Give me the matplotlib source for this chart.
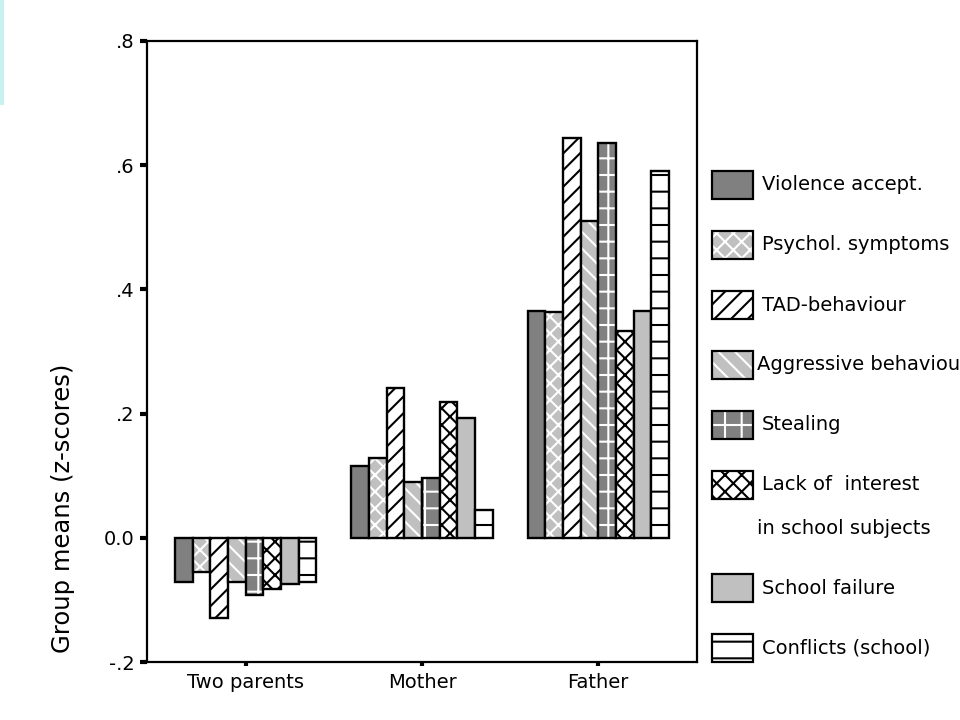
import matplotlib
matplotlib.use("Agg")
import matplotlib.pyplot as plt
import numpy as np
from matplotlib.patches import Rectangle

# group means (z-scores)
groups = ["Two parents", "Mother", "Father"]
series = ["Violence accept.", "Psychol. symptoms", "TAD-behaviour",
          "Aggressive behaviour", "Stealing",
          "Lack of  interest\nin school subjects", "School failure",
          "Conflicts (school)"]
violence = [-0.071, 0.116, 0.366]
psychol = [-0.055, 0.129, 0.364]
tad = [-0.129, 0.242, 0.643]
aggressive = [-0.071, 0.090, 0.510]
stealing = [-0.092, 0.097, 0.636]
lack_interest = [-0.082, 0.219, 0.333]
school_failure = [-0.074, 0.193, 0.366]
conflicts = [-0.071, 0.045, 0.591]
yticks = [-0.2, 0.0, 0.2, 0.4, 0.6, 0.8]
ytick_labels = ["-.2", "0.0", ".2", ".4", ".6", ".8"]

values = [violence, psychol, tad, aggressive, stealing,
          lack_interest, school_failure, conflicts]

DARK = "#808080"
LIGHT = "#c0c0c0"
# (face, hatch, hatch colour)
styles = [
    (DARK, None, DARK),
    (LIGHT, "xx", "white"),
    ("white", "//", "black"),
    (LIGHT, "\\\\", "white"),
    (DARK, "+", "white"),
    ("white", "xx", "black"),
    (LIGHT, None, LIGHT),
    ("white", "-", "black"),
]

plt.rcParams["hatch.linewidth"] = 1.5
plt.rcParams["font.family"] = ["DejaVu Sans"]

W, H = 960, 720
fig = plt.figure(figsize=(9.6, 7.2), dpi=100)
ax = fig.add_axes([147 / W, 1 - 662 / H, 550 / W, 621 / H])

width = 0.1
x = np.arange(len(groups))
for i, (vals, (fc, hatch, hc)) in enumerate(zip(values, styles)):
    xs = x + (i - 3.5) * width
    ax.bar(xs, vals, width, color=fc, edgecolor=hc, hatch=hatch, linewidth=0)
    ax.bar(xs, vals, width, fill=False, edgecolor="black", linewidth=1.7)

ax.set_xlim(-0.56, 2.56)
ax.set_ylim(-0.2, 0.8)
ax.set_xticks(x)
ax.set_xticklabels(groups, fontsize=14)
ax.set_yticks(yticks)
ax.set_yticklabels(ytick_labels, fontsize=14)
ax.tick_params(axis="y", direction="out", length=5, width=3, pad=4)
ax.tick_params(axis="x", direction="out", length=3, width=3, pad=5)
for sp in ax.spines.values():
    sp.set_linewidth(1.6)

fig.text(63 / W, 1 - 508 / H, "Group means (z-scores)", rotation=90,
         ha="center", va="center", fontsize=17.5)

# legend drawn by hand (two-line entry and clipped label as in the original)
for k, (name, (fc, hatch, hc)) in enumerate(zip(series, styles)):
    yc = 185 + 60 * k + (43 if k >= 6 else 0)
    x0, pw, ph = 712, 41, 28
    rect = (x0 / W, 1 - (yc + ph / 2) / H)
    fig.add_artist(Rectangle(rect, pw / W, ph / H, transform=fig.transFigure,
                             facecolor=fc, edgecolor=hc, hatch=hatch, lw=0))
    fig.add_artist(Rectangle(rect, pw / W, ph / H, transform=fig.transFigure,
                             fill=False, edgecolor="black", lw=1.6))
    for j, line in enumerate(name.split("\n")):
        tx = 757 if (j == 1 or k == 3) else 762
        fig.text(tx / W, 1 - (yc + 43 * j) / H, line, ha="left",
                 va="center", fontsize=14)

# faint cyan strip at the top-left edge of the slide
fig.add_artist(Rectangle((0, 1 - 105 / H), 4 / W, 105 / H,
                         transform=fig.transFigure, color="#c8f2f2", lw=0))

fig.savefig("out.png", dpi=100, facecolor="white")
